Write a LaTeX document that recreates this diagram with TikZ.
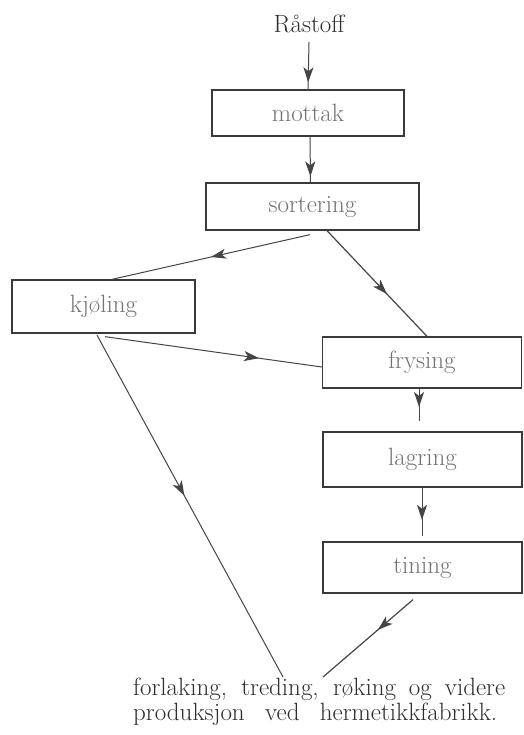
\documentclass[tikz,border=0pt]{standalone}
\usepackage{fontspec}
\setmainfont{Latin Modern Roman}
\usetikzlibrary{arrows.meta,decorations.markings,calc}
\definecolor{boxline}{HTML}{3A3A3A}
\definecolor{lineg}{HTML}{454545}
\definecolor{labelgray}{HTML}{727272}
\definecolor{textdark}{HTML}{2E2E2E}
\tikzset{
  box/.style={draw=boxline, line width=1.3pt, text=labelgray, font=\fontsize{25}{28}\selectfont, inner sep=0pt},
  conn/.style={draw=lineg, line width=1pt},
  midarr/.style={postaction={decorate}, decoration={markings, mark=at position #1 with {\arrow{Stealth[length=15pt,width=10pt,inset=4pt]}}}},
  lbl/.style={text=textdark, font=\fontsize{25}{28}\selectfont, inner sep=0pt},
}
\begin{document}
\begin{tikzpicture}[x=1pt,y=-1pt]
\useasboundingbox[fill=white] (0,0) rectangle (523,735);

\node[lbl] (raastoff) at (309,24) {Råstoff};
\node[box, minimum width=192pt, minimum height=46pt] (mottak) at (308,113) {mottak};
\node[box, minimum width=213pt, minimum height=47pt] (sortering) at (312.5,206.5) {sortering};
\node[box, minimum width=183pt, minimum height=53pt] (kjoling) at (103.5,306.5) {kjøling};
\node[box, minimum width=199pt, minimum height=51pt] (frysing) at (422,362.5) {frysing};
\node[box, minimum width=199pt, minimum height=55pt] (lagring) at (422.5,459.5) {lagring};
\node[box, minimum width=199pt, minimum height=51pt] (tining) at (422.5,567.5) {tining};

\node[lbl, anchor=north west, align=left] (produksjon) at (133,678)
  {\makebox[372pt][s]{forlaking, treding, røking og videre}\\[-3pt]
   \makebox[364pt][s]{produksjon ved hermetikkfabrikk.}};

\coordinate (kend) at (283,677);
\coordinate (tend) at (323,677);

\draw[conn, midarr=0.85] ($(raastoff.south)+(0,9)$) -- (mottak.north);
\draw[conn, midarr=0.87] ($(mottak.south)+(2,0)$) -- ($(sortering.north)+(-2,0)$);
\draw[conn, midarr=0.5] ($(sortering.south)+(-2.5,4)$) -- ($(kjoling.north)+(8.5,0)$);
\draw[conn, line width=1.2pt, midarr=0.6] ($(sortering.south)+(14.5,0)$) -- ($(frysing.north)+(5,0)$);
\draw[conn, midarr=0.71] ($(kjoling.south)+(1.5,3)$) -- ($(frysing.west)+(0,4.5)$);
\draw[conn, midarr=0.47] ($(kjoling.south)+(-6.5,1.5)$) -- (kend);
\draw[conn, midarr=0.56] ($(frysing.south)+(-3,0)$) -- ($(lagring.north)+(-3.5,-10)$);
\draw[conn, midarr=0.66] ($(lagring.south)+(-0.5,0)$) -- ($(tining.north)+(-0.5,-5)$);
\draw[conn, line width=1.2pt, midarr=0.39] ($(tining.south)+(-9.5,6)$) -- (tend);
\end{tikzpicture}
\end{document}
